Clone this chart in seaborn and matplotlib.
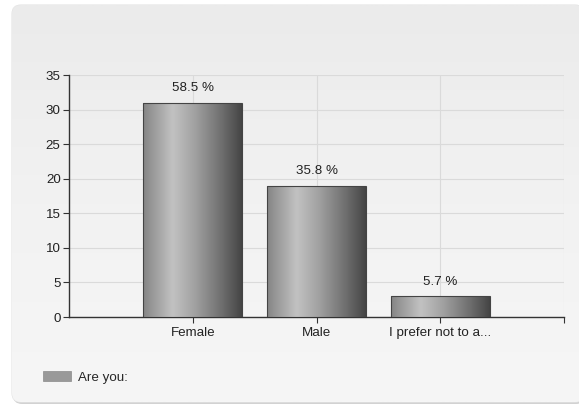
import numpy as np
import pandas as pd
import matplotlib
matplotlib.use("Agg")
import matplotlib.pyplot as plt
import seaborn as sns
from matplotlib.patches import FancyBboxPatch, Patch
from matplotlib.colors import LinearSegmentedColormap

# Survey responses
categories = ["Female", "Male", "I prefer not to a..."]
counts = [31, 19, 3]
pct_labels = ["58.5 %", "35.8 %", "5.7 %"]
series_name = "Are you:"
y_ticks = [0, 5, 10, 15, 20, 25, 30, 35]

df = pd.DataFrame({"answer": categories, "count": counts})

sns.set_theme(style="white")
plt.rcParams["font.family"] = ["Liberation Sans", "DejaVu Sans"]

W, H = 579, 407
FS = 9.6
fig = plt.figure(figsize=(W / 100, H / 100), dpi=100)
fig.patch.set_facecolor("white")

# Rounded card behind the chart with a soft vertical gradient
bg_ax = fig.add_axes([0, 0, 1, 1], zorder=-10)
bg_ax.set_xlim(0, W)
bg_ax.set_ylim(H, 0)
bg_ax.axis("off")
# faint drop shadow under the card
shadow = FancyBboxPatch((13, 7), 572, 397, boxstyle="round,pad=0,rounding_size=9",
                        facecolor="#d2d2d2", edgecolor="none", zorder=-2)
bg_ax.add_patch(shadow)
card = FancyBboxPatch((12, 5), 572, 397, boxstyle="round,pad=0,rounding_size=9",
                      facecolor="#f2f2f2", edgecolor="#e4e4e4", linewidth=0.8, zorder=-1)
bg_ax.add_patch(card)
grad = np.linspace(0, 1, 256).reshape(-1, 1)
bg_cmap = LinearSegmentedColormap.from_list("bg", ["#ebebeb", "#f2f2f2", "#f6f6f6"])
im = bg_ax.imshow(grad, extent=(12, 584, 402, 5), cmap=bg_cmap, aspect="auto", zorder=0)
im.set_clip_path(card)

ax = fig.add_axes([69 / W, 1 - 317 / H, (564 - 69) / W, (317 - 75) / H])
ax.set_facecolor("none")

sns.barplot(data=df, x="answer", y="count", ax=ax, color="#999999",
            width=0.8, edgecolor="#444444", linewidth=0.8, saturation=1, zorder=3)

# Cylinder-like horizontal shading over each bar
shade = LinearSegmentedColormap.from_list(
    "shade",
    [(0.0, "#858585"), (0.3, "#c2c2c2"), (0.52, "#a2a2a2"),
     (0.8, "#6e6e6e"), (1.0, "#454545")])
row = np.linspace(0, 1, 256).reshape(1, -1)
for p in ax.patches:
    x0, y0 = p.get_x(), p.get_y()
    w, h = p.get_width(), p.get_height()
    img = ax.imshow(row, extent=(x0, x0 + w, y0, y0 + h), cmap=shade,
                    aspect="auto", zorder=3.5, interpolation="bicubic")
    img.set_clip_path(p)
    p.set_facecolor("none")
    p.set_zorder(4)

# Percentage labels above the bars
for p, lab in zip(ax.patches, pct_labels):
    ax.annotate(lab, (p.get_x() + p.get_width() / 2, p.get_height()),
                xytext=(0, 10.5), textcoords="offset points",
                ha="center", va="center", fontsize=FS, color="#222222", zorder=5)

ax.set_xlim(-1, 3)
ax.set_ylim(0, 35)
ax.set_yticks(y_ticks)
ax.set_xticks([0, 1, 2, 3])
ax.set_xticklabels(categories + [""])
ax.set_xlabel("")
ax.set_ylabel("")

ax.grid(True, axis="both", color="#dadada", linewidth=0.8, zorder=0)
ax.set_axisbelow(True)
for s in ["top", "right"]:
    ax.spines[s].set_visible(False)
for s in ["left", "bottom"]:
    ax.spines[s].set_color("#333333")
    ax.spines[s].set_linewidth(1.0)
ax.tick_params(axis="both", which="both", length=4, width=0.8, color="#333333",
               labelsize=FS, labelcolor="#222222", direction="out",
               bottom=True, left=True)
ax.tick_params(axis="x", pad=3)
ax.tick_params(axis="y", pad=2)

# Legend at the lower left of the card
handle = Patch(facecolor="#999999", edgecolor="#8a8a8a", linewidth=0.5)
fig.legend(handles=[handle], labels=[series_name], loc="center left",
           bbox_to_anchor=(43 / W, 1 - 377.5 / H), frameon=False,
           fontsize=FS, handlelength=20.2 / FS, handleheight=7.9 / FS,
           handletextpad=5.0 / FS, borderpad=0, borderaxespad=0)

fig.savefig("out.png", dpi=100)
